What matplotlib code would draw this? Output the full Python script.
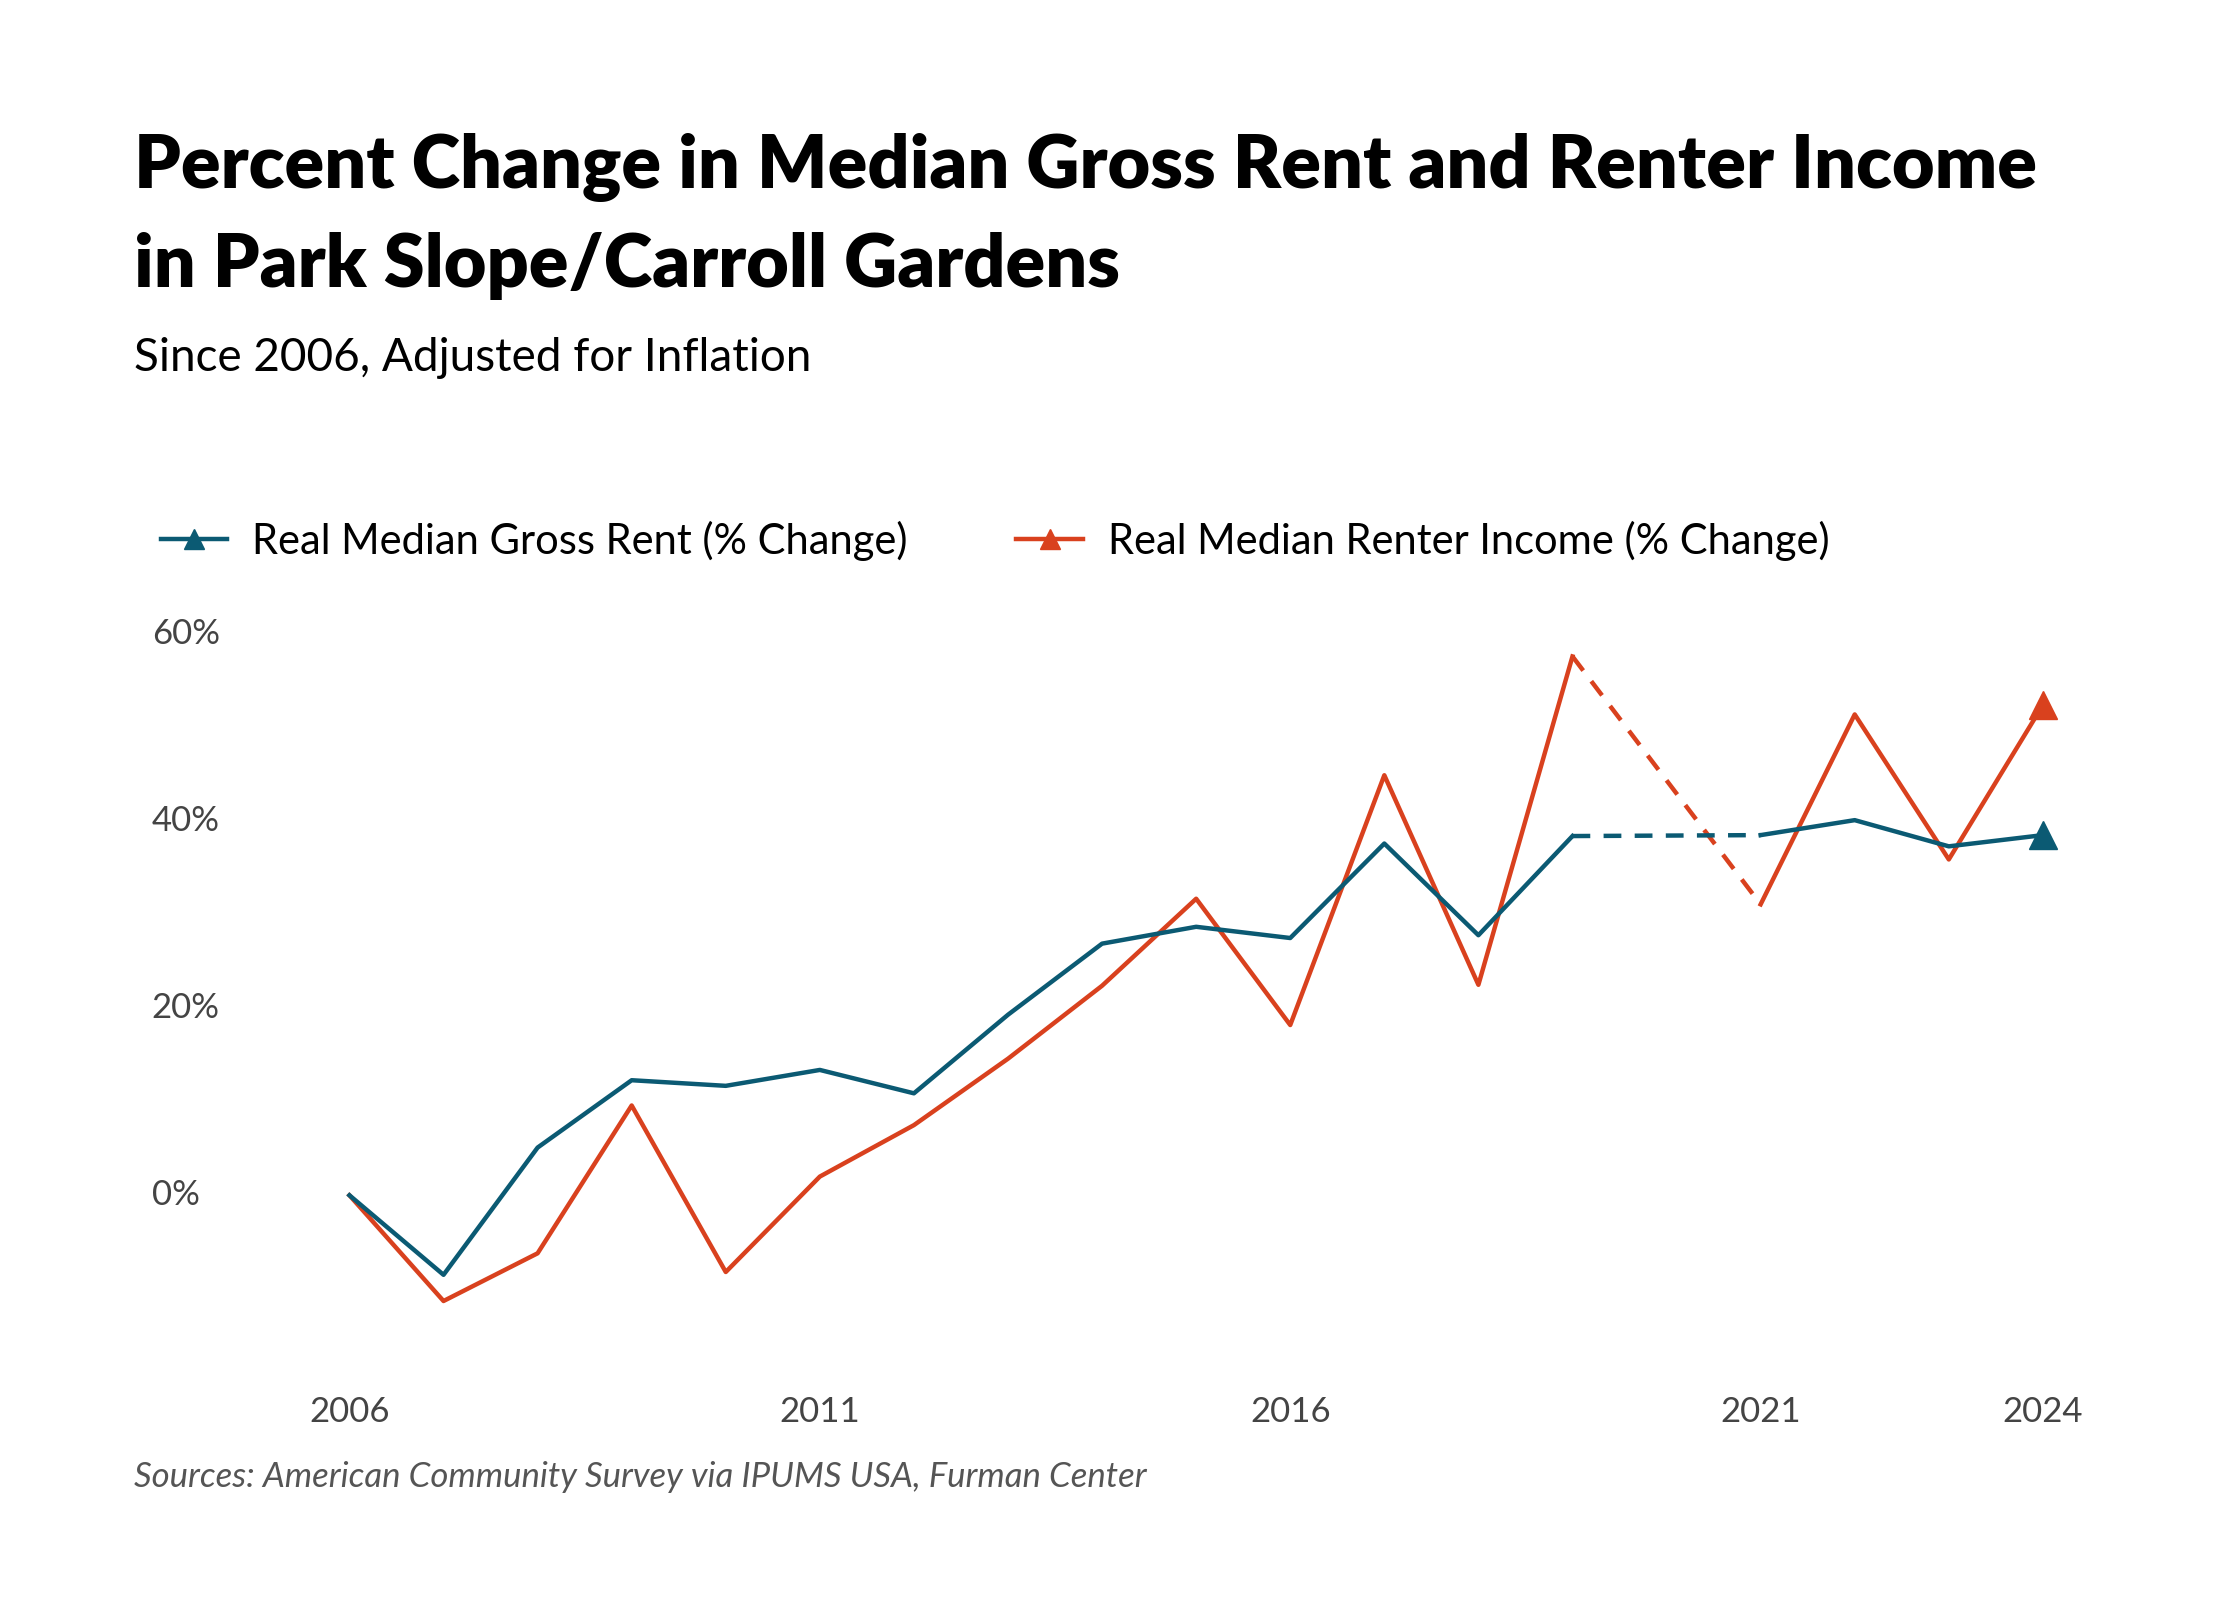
import matplotlib
matplotlib.use("Agg")
import matplotlib.pyplot as plt
from matplotlib.lines import Line2D
import numpy as np

years = [2006, 2007, 2008, 2009, 2010, 2011, 2012, 2013, 2014, 2015, 2016, 2017, 2018, 2019, 2021, 2022, 2023, 2024]
rent = [0, -8.5, 5.1, 12.3, 11.7, 13.4, 10.9, 19.3, 26.9, 28.7, 27.5, 37.6, 27.8, 38.4, 38.5, 40.1, 37.3, 38.5]
income = [0, -11.3, -6.2, 9.6, -8.2, 2.0, 7.5, 14.6, 22.4, 31.7, 18.2, 44.9, 22.5, 57.6, 31.1, 51.4, 35.9, 52.4]
xticks = [2006, 2011, 2016, 2021, 2024]
yticks = [0, 20, 40, 60]

blue = "#0b5a73"
orange = "#d9411e"
plt.rcParams['font.family'] = ['Lato', 'DejaVu Sans']

fig = plt.figure(figsize=(22.4, 16), dpi=100)
ax = fig.add_axes([0.114, 0.136, 0.84, 0.497])
ax.set_xlim(2005, 2025)
ax.set_ylim(-20, 65)

gap = years.index(2019)
for vals, c in [(income, orange), (rent, blue)]:
    ax.plot(years[:gap + 1], vals[:gap + 1], color=c, lw=3.2)
    ax.plot(years[gap:gap + 2], vals[gap:gap + 2], color=c, lw=3.2, ls=(0, (4, 3)))
    ax.plot(years[gap + 1:], vals[gap + 1:], color=c, lw=3.2)
    ax.plot(years[-1], vals[-1], marker='^', color=c, ms=20)

for s in ax.spines.values():
    s.set_visible(False)
ax.set_xticks(xticks)
ax.set_xticklabels([str(y) for y in xticks], fontsize=25, color="#444444")
ax.set_yticks([])
ax.tick_params(axis='x', length=0, pad=10)
for v in yticks:
    ax.text(-0.055, v, f"{v}%", transform=ax.get_yaxis_transform(), fontsize=25,
            color="#444444", ha='left', va='center')

fig.text(0.06, 0.895, "Percent Change in Median Gross Rent and Renter Income",
         fontsize=53, fontweight='heavy', va='center')
fig.text(0.06, 0.834, "in Park Slope/Carroll Gardens", fontsize=53, fontweight='heavy', va='center')
fig.text(0.06, 0.776, "Since 2006, Adjusted for Inflation", fontsize=33, va='center')
fig.text(0.06, 0.077, "Sources: American Community Survey via IPUMS USA, Furman Center",
         fontsize=25, style='italic', color="#555555", va='center')

handles = [Line2D([], [], color=blue, lw=3.2, marker='^', ms=14),
           Line2D([], [], color=orange, lw=3.2, marker='^', ms=14)]
fig.legend(handles, ["Real Median Gross Rent (% Change)", "Real Median Renter Income (% Change)"],
           loc='center left', bbox_to_anchor=(0.055, 0.662), ncol=2, frameon=False,
           fontsize=30, handlelength=1.6, handletextpad=0.6, columnspacing=2.6)

fig.savefig("out.png", dpi=100)
